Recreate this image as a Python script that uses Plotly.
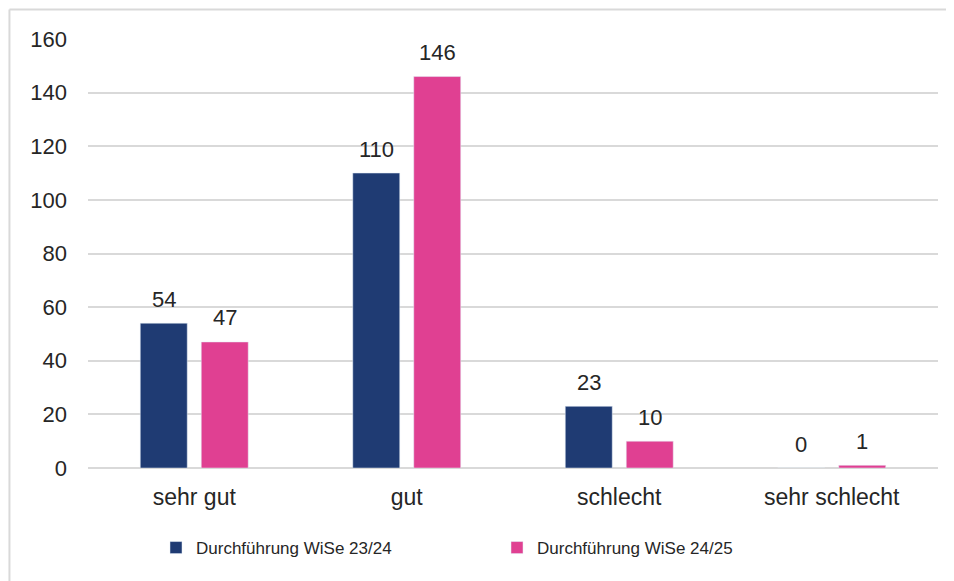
import plotly.graph_objects as go

categories = ["sehr gut", "gut", "schlecht", "sehr schlecht"]
wise_2324 = [54, 110, 23, 0]
wise_2425 = [47, 146, 10, 1]
y_ticks = [0, 20, 40, 60, 80, 100, 120, 140, 160]

font_family = "Liberation Sans, Arial, sans-serif"
text_color = "#262626"

fig = go.Figure()

fig.add_trace(go.Bar(
    x=categories,
    y=wise_2324,
    name="Durchführung WiSe 23/24",
    marker_color="#1F3B73"))

fig.add_trace(go.Bar(
    x=categories,
    y=wise_2425,
    name="Durchführung WiSe 24/25",
    marker_color="#E04092"))

# data labels above the bars
for vals, shift in [(wise_2324, -30.5), (wise_2425, 30.5)]:
    for cat, v in zip(categories, vals):
        fig.add_annotation(x=cat, y=v, text=str(v), showarrow=False,
                           xshift=shift, yshift=24, yanchor="middle",
                           font=dict(size=22, color=text_color))

# page body has an 8px margin
fig.update_layout(
    width=946, height=573,
    margin=dict(l=80, r=16, t=31, b=113),
    paper_bgcolor="white",
    plot_bgcolor="white",
    font=dict(family=font_family, size=22, color=text_color),
    barmode="group",
    bargap=0.426,
    bargroupgap=0.23,
    showlegend=True,
    legend=dict(orientation="h", x=0.080, xanchor="left", y=-0.1865, yanchor="middle",
                font=dict(size=17), itemwidth=30,
                entrywidth=296, traceorder="normal"),
)

fig.update_yaxes(range=[0, 160], tickvals=y_ticks, showgrid=True, gridcolor="#D9D9D9",
                 gridwidth=2, zeroline=True, zerolinecolor="#D9D9D9", zerolinewidth=2,
                 showline=False, ticklabelstandoff=20, tickfont=dict(size=22))
fig.update_xaxes(showline=False, ticklabelstandoff=13, tickfont=dict(size=23))

# outer chart frame (only left and top edges are inside the picture)
fig.add_shape(type="line", xref="paper", yref="paper",
              x0=-0.0924, x1=-0.0924, y0=-0.3, y1=1.0688,
              line=dict(color="#D9D9D9", width=2), layer="below")
fig.add_shape(type="line", xref="paper", yref="paper",
              x0=-0.0924, x1=1.1, y0=1.0688, y1=1.0688,
              line=dict(color="#D9D9D9", width=2), layer="below")

fig.write_html("out.html")
